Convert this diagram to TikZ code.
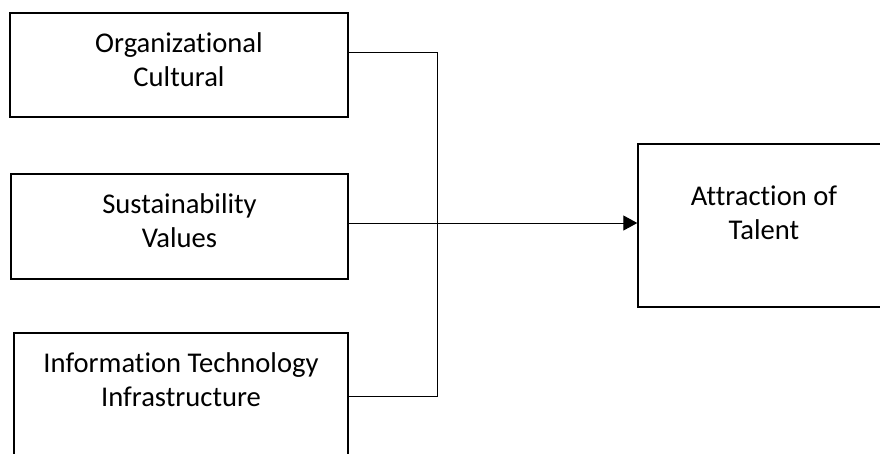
\documentclass[tikz,border=0pt]{standalone}
\usepackage{fontspec}
\setmainfont{Carlito}[Ligatures=CommonOff]
\usetikzlibrary{arrows.meta}

\tikzstyle{factor} = [draw, rectangle, line width=1.4pt, inner sep=0pt]
\tikzstyle{caption} = [align=center, font=\fontsize{28.6}{34}\selectfont, inner sep=0pt, anchor=base]
\tikzstyle{link} = [line width=1pt]

\begin{document}
\begin{tikzpicture}[x=1pt,y=-1pt]
       \useasboundingbox (0,0) rectangle (880,453);
       \clip (0,0) rectangle (880,453);

       \node[factor, line width=2.2pt, minimum width=338pt, minimum height=104pt] (culture) at (179,65) {};
       \node[factor, minimum width=337pt, minimum height=105pt] (values) at (179.5,226.5) {};
       \node[factor, minimum width=334pt, minimum height=147pt] (infra) at (181,406.5) {};
       \node[factor, minimum width=252pt, minimum height=163pt] (talent) at (764,225.5) {};

       % base anchor sits on the last line
       \node[caption] (culturetext) at (179,86) {Organizational\\Cultural};
       \node[caption] (valuestext) at (179.5,247) {Sustainability\\Values};
       \node[caption] (infratext) at (181,406) {Information Technology\\Infrastructure};
       \node[caption] (talenttext) at (764,239) {Attraction of\\Talent};

       \coordinate (top) at (437,52);
       \coordinate (bottom) at (437,396);
       \coordinate (row) at (0,223);

       \draw[link] (culture.east |- top) -- (top) -- (bottom) -- (infra.east |- bottom);
       \draw[link, -{Triangle[length=14pt,width=15pt]}] (values.east |- row) -- (talent.west |- row);
     \end{tikzpicture}
\end{document}
